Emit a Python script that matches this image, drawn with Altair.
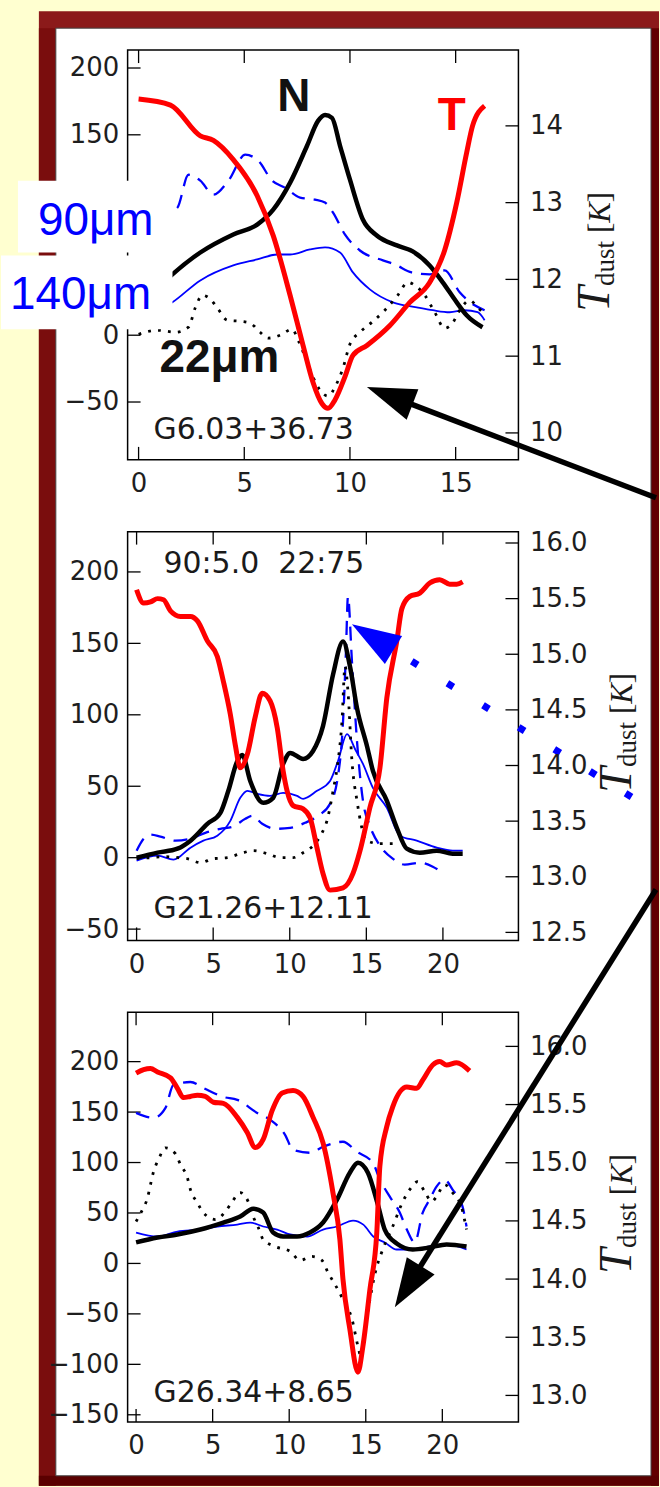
import math
import altair as alt
import pandas as pd

# ---------------- data : panel 1  (G6.03+36.73) ----------------
p1_T_x = [0, 1.51, 2.92, 3.54, 4.48, 5.61, 6.37, 7.17, 7.78, 8.25, 8.68, 8.96, 9.29, 9.76, 10.14,
          10.80, 11.89, 12.83, 13.77, 14.48, 15.05, 15.52, 15.80, 16.37]
p1_T = [14.35, 14.27, 13.87, 13.81, 13.56, 13.09, 12.57, 11.79, 11.14, 10.66, 10.38, 10.32, 10.43,
        10.73, 11.01, 11.14, 11.40, 11.70, 11.96, 12.38, 13.00, 13.65, 14.00, 14.26]
p1_N_x = [0, 0.80, 1.60, 2.92, 4.48, 5.61, 6.37, 7.17, 7.97, 8.49, 8.82, 9.15, 9.53, 10.0, 10.61,
          11.27, 12.22, 12.97, 13.77, 14.39, 15.05, 15.52, 16.27]
p1_N = [24.6, 33.6, 45.5, 61.9, 75.4, 82.8, 94.0, 114.2, 141.8, 160.4, 164.9, 162.7, 141.8, 116.4,
        86.6, 74.6, 67.2, 62.7, 52.2, 39.6, 24.6, 14.9, 6.0]
p1_140_x = [0, 0.80, 1.60, 2.92, 4.48, 5.61, 6.56, 7.17, 8.11, 8.82, 9.53, 10.14, 10.94, 12.03,
            13.16, 13.92, 14.72, 15.42, 16.04, 16.37]
p1_140 = [11.2, 17.2, 24.6, 41.0, 52.2, 56.7, 60.4, 60.4, 64.2, 65.7, 61.9, 47.0, 34.3, 24.6, 20.9,
          18.7, 17.2, 18.7, 17.2, 11.2]
p1_90_x = [0, 1.04, 1.84, 2.36, 2.92, 3.54, 4.25, 5.05, 5.66, 6.32, 6.93, 7.64, 8.35, 8.82, 9.20,
           9.76, 10.47, 11.56, 12.12, 12.92, 13.77, 14.48, 15.19, 15.90, 16.37]
p1_90 = [76.9, 88.1, 95.5, 120.1, 115.7, 105.2, 115.7, 135.1, 130.6, 115.7, 110.4, 103.0, 101.5,
         99.3, 91.8, 75.4, 63.4, 56.0, 53.0, 47.0, 45.5, 48.5, 32.1, 22.4, 18.7]
p1_22_x = [0, 0.90, 1.75, 2.36, 2.69, 3.02, 3.40, 3.77, 4.20, 4.81, 5.28, 5.75, 6.13, 6.70, 7.26,
           7.55, 7.88, 8.25, 8.58, 8.96, 9.34, 9.67, 10.00, 10.47, 11.04, 11.65, 12.26, 12.74,
           13.07, 13.54, 14.01, 14.48, 14.81, 15.28, 15.66, 16.04, 16.37]
p1_22 = [0.7, 3.7, 2.2, 6.0, 20.9, 29.9, 26.9, 19.4, 11.2, 10.4, 9.0, 2.2, -2.2, 0, 4.5, -3.7,
         -16.4, -31.3, -41.0, -45.5, -37.3, -24.6, -6.7, 2.2, 9.7, 18.7, 29.9, 39.6, 37.3, 29.9,
         17.2, 5.2, 8.2, 20.9, 26.1, 20.9, 15.7]

# ---------------- data : panel 2  (G21.26+12.11) ----------------
p2_T_x = [0, 0.46, 0.91, 1.37, 1.76, 2.21, 2.86, 3.52, 3.97, 4.62, 5.27, 5.66, 6.12, 6.45, 6.77,
          7.23, 7.75, 8.20, 8.72, 9.18, 9.57, 9.83, 10.22, 10.87, 11.33, 11.78, 12.17, 12.63,
          13.48, 14.13, 14.58, 15.23, 15.89, 16.34, 16.99, 17.32, 17.84, 18.49, 19.14, 19.79,
          20.44, 20.90, 21.29]
p2_T = [15.58, 15.46, 15.47, 15.50, 15.49, 15.39, 15.34, 15.34, 15.30, 15.12, 14.98, 14.76, 14.46,
        14.18, 13.98, 14.10, 14.44, 14.65, 14.58, 14.34, 13.95, 13.77, 13.64, 13.61, 13.53, 13.26,
        13.03, 12.88, 12.90, 13.03, 13.23, 13.62, 13.98, 14.61, 15.12, 15.41, 15.52, 15.55, 15.64,
        15.67, 15.63, 15.63, 15.65]
p2_N_x = [0, 1.37, 2.67, 3.52, 4.62, 5.47, 5.99, 6.58, 6.90, 7.42, 8.27, 8.92, 9.57, 10.03, 10.87,
          11.52, 12.17, 12.83, 13.48, 13.93, 14.39, 15.04, 15.43, 16.34, 16.99, 17.64, 18.49,
          19.60, 20.64, 21.29]
p2_N = [0, 3.5, 6.3, 11.9, 23.7, 31.4, 46.8, 67.7, 71.9, 53.7, 38.4, 41.9, 65.6, 73.3, 69.1, 74.7,
        92.1, 128.4, 151.4, 134.0, 104.7, 78.2, 60.7, 39.8, 20.9, 6.3, 3.5, 4.9, 2.8, 2.8]
p2_140_x = [0, 1.37, 2.41, 3.52, 4.36, 5.27, 6.12, 6.77, 7.23, 7.88, 8.72, 9.57, 10.48, 10.87,
            11.78, 12.63, 13.15, 13.74, 14.26, 14.78, 15.43, 16.34, 17.19, 18.29, 19.60, 20.64,
            21.29]
p2_140 = [-2.1, 1.4, -1.4, 7.0, 11.9, 15.4, 25.8, 41.9, 46.8, 44.7, 43.3, 45.4, 43.3, 41.2, 46.8,
          53.7, 67.7, 86.5, 76.1, 65.6, 48.8, 34.9, 15.4, 11.9, 7.0, 4.9, 4.9]
p2_90_x = [0, 0.46, 0.91, 1.56, 2.54, 3.52, 4.49, 5.47, 6.25, 7.10, 7.55, 8.20, 9.05, 10.03, 11.00,
           11.85, 12.63, 13.15, 13.48, 13.67, 13.80, 14.06, 14.39, 14.78, 15.23, 15.89, 16.73,
           17.51, 18.49, 19.34, 19.79]
p2_90 = [4.9, 13.3, 16.1, 14.7, 11.9, 13.3, 17.4, 20.2, 21.6, 27.2, 29.3, 23.7, 20.2, 20.9, 24.4,
         29.3, 37.7, 57.2, 95.6, 144.5, 182.8, 137.5, 81.6, 39.8, 22.3, 8.4, -0.7, -4.9, -3.5,
         -6.3, -9.1]
p2_22_x = [0, 0.91, 1.89, 2.73, 3.32, 4.17, 5.01, 5.92, 6.77, 7.62, 8.53, 9.38, 10.22, 10.87,
           11.52, 12.11, 12.43, 12.83, 13.09, 13.41, 13.61, 13.80, 14.06, 14.39, 15.04, 15.89,
           16.73]
p2_22 = [-0.7, 0, 0.7, 0, -0.7, -3.5, -0.7, 0, 2.8, 4.9, 2.8, 0, 0, 3.5, 8.4, 17.4, 25.8, 46.8,
         62.8, 95.6, 134.0, 116.5, 67.7, 39.8, 11.9, 9.8, 9.8]

# ---------------- data : panel 3  (G26.34+8.65) ----------------
p3_T_x = [0, 0.49, 0.94, 1.40, 2.25, 2.70, 3.09, 3.55, 4.00, 4.52, 5.05, 5.70, 6.61, 7.26, 7.78,
          8.30, 8.89, 9.54, 10.25, 10.90, 11.56, 12.21, 12.86, 13.31, 13.51, 13.96, 14.49, 14.81,
          15.27, 15.72, 15.92, 16.37, 16.76, 17.68, 18.33, 18.72, 19.37, 19.82, 20.28, 20.93,
          21.78]
p3_T = [15.77, 15.80, 15.81, 15.78, 15.73, 15.64, 15.56, 15.57, 15.58, 15.57, 15.52, 15.51, 15.39,
        15.26, 15.13, 15.20, 15.45, 15.60, 15.62, 15.57, 15.39, 15.17, 14.74, 14.34, 14.00, 13.57,
        13.20, 13.42, 13.91, 14.40, 14.97, 15.31, 15.48, 15.65, 15.64, 15.71, 15.84, 15.87, 15.84,
        15.86, 15.79]
p3_N_x = [0, 1.40, 2.70, 4.20, 5.70, 6.80, 7.65, 8.30, 8.95, 9.60, 10.51, 11.36, 12.21, 13.12,
          13.96, 14.49, 15.14, 15.79, 16.24, 17.02, 18.07, 19.17, 20.28, 21.58]
p3_N = [20.8, 25.7, 28.7, 33.6, 40.5, 46.4, 54.3, 50.4, 30.6, 26.7, 26.7, 30.6, 40.5, 63.2, 89.9,
        99.8, 89.9, 58.3, 33.6, 19.8, 13.8, 15.8, 18.8, 16.8]
p3_140_x = [0, 1.40, 2.70, 4.20, 5.31, 6.61, 7.45, 8.30, 9.21, 10.06, 11.17, 12.21, 13.12, 14.17,
            14.84, 15.49, 16.24, 17.02, 18.07, 19.17, 20.28, 21.58]
p3_140 = [30.6, 26.7, 31.6, 33.6, 36.6, 38.5, 40.5, 36.6, 33.6, 28.7, 26.7, 33.6, 36.6, 42.5, 38.5,
          26.7, 20.8, 13.8, 13.8, 16.8, 18.8, 13.8]
p3_90_x = [0, 1.14, 1.92, 2.44, 3.55, 4.39, 5.70, 6.61, 7.91, 8.76, 9.73, 10.25, 11.36, 12.21,
           13.51, 14.42, 15.46, 15.92, 16.57, 17.22, 17.68, 18.20, 18.72, 19.17, 19.62, 20.15,
           20.67, 21.32, 21.58]
p3_90 = [149.2, 144.3, 154.2, 176.9, 179.8, 173.9, 165.0, 162.1, 149.2, 142.3, 127.5, 112.6, 109.7,
         115.6, 120.6, 110.7, 99.8, 83.0, 66.2, 50.4, 33.6, 20.8, 50.4, 63.2, 76.1, 83.0, 73.1,
         56.3, 36.6]
p3_22_x = [0, 0.42, 0.75, 0.94, 1.14, 1.46, 1.92, 2.57, 2.90, 3.35, 3.55, 4.00, 4.39, 5.18, 5.83,
           6.28, 6.80, 7.32, 7.65, 7.98, 8.30, 9.08, 10.06, 10.71, 11.49, 12.14, 12.53, 12.99,
           13.51, 14.10, 14.49, 14.68, 14.94, 15.27, 15.59, 16.11, 16.76, 17.42, 17.87, 18.39,
           18.85, 19.30, 19.62, 20.15, 20.67, 21.26, 21.58]
p3_22 = [41.5, 53.4, 65.2, 78.1, 90.9, 102.8, 114.6, 108.7, 97.8, 85.0, 73.1, 60.3, 50.4, 43.5,
         51.4, 61.3, 70.2, 61.3, 46.4, 35.6, 23.7, 16.8, 11.9, 3.0, 6.9, 3.0, -8.9, -20.8, -35.6,
         -55.3, -82.0, -91.9, -65.2, -35.6, -10.9, 13.8, 36.6, 61.3, 73.1, 81.0, 71.1, 61.3, 66.2,
         78.1, 70.2, 55.3, 33.6]

# ---------------- axis ticks / labels ----------------
p1_x_ticks = [0, 5, 10, 15]
p1_n_ticks = [-50, 0, 50, 100, 150, 200]
p1_n_labels = [-50, 0, 150, 200]
p1_t_ticks = [10, 11, 12, 13, 14]
p2_x_ticks = [0, 5, 10, 15, 20]
p2_n_ticks = [-50, 0, 50, 100, 150, 200]
p2_t_ticks = [12.5, 13.0, 13.5, 14.0, 14.5, 15.0, 15.5, 16.0]
p3_x_ticks = [0, 5, 10, 15, 20]
p3_n_ticks = [-150, -100, -50, 0, 50, 100, 150, 200]
p3_t_ticks = [13.0, 13.5, 14.0, 14.5, 15.0, 15.5, 16.0]

# ---------------- layout constants ----------------
W = 392
LEFT = 127
TOPS = [47, 530, 1012]
HEIGHTS = [411, 410, 411]
FIG_W, FIG_H = 660, 1487
TICK = 13
BLUE = "#0000FF"
RED = "#FF0000"
INK = "#1a1a1a"
YELLOW = "#FFFFD0"
ONE = pd.DataFrame({"k": [0]})
HEAD = "M 1 0 L -1 -0.67 L -1 0.67 Z"
AXL = dict(labelFont="DejaVu Sans", labelFontSize=26, labelColor="#1e1e1e",
           labelOverlap=False, labelFlush=False, ticks=False, domain=False, grid=False,
           title=None)


def rect(x1, y1, x2, y2, top, **kw):
    return alt.Chart(ONE).mark_rect(**kw).encode(
        x=alt.value(x1 - LEFT), x2=alt.value(x2 - LEFT),
        y=alt.value(y1 - top), y2=alt.value(y2 - top))


def txt(text, ax, ay, top, size, color=INK, font="DejaVu Sans", weight="normal",
        style="normal", angle=0):
    return alt.Chart(ONE).mark_text(
        text=text, font=font, fontSize=size, fontWeight=weight, fontStyle=style,
        color=color, angle=angle, align="left", baseline="alphabetic").encode(
        x=alt.value(ax - LEFT), y=alt.value(ay - top))


def tdust(top, H, bx):
    b = top + H / 2 + 57
    return [
        txt("T", bx, b, top, 46, font="Liberation Serif", style="italic", angle=270),
        txt("dust", bx + 5, b - 26, top, 27, font="Liberation Serif", angle=270),
        txt("[", bx + 1, b - 79, top, 31, font="Liberation Serif", angle=270),
        txt("K", bx + 1, b - 89.3, top, 31, font="Liberation Serif", style="italic", angle=270),
        txt("]", bx + 1, b - 110, top, 31, font="Liberation Serif", angle=270),
    ]


def arrow(tail, tip, top, color, width, dash=None):
    (tx, ty), (px, py) = tail, tip
    L = math.hypot(tx - px, ty - py)
    ux, uy = (tx - px) / L, (ty - py) / L
    hl = 49
    cx, cy = px + ux * hl / 2, py + uy * hl / 2
    ang = math.degrees(math.atan2(-uy, -ux)) % 360
    kw = dict(color=color, strokeWidth=width, strokeCap="butt")
    if dash:
        kw["strokeDash"] = dash
        ex, ey = tx - ux * 265, ty - uy * 265
    else:
        ex, ey = cx, cy
    line = alt.Chart(ONE).mark_rule(**kw).encode(
        x=alt.value(tx - LEFT), y=alt.value(ty - top),
        x2=alt.value(ex - LEFT), y2=alt.value(ey - top))
    head = alt.Chart(ONE).mark_point(
        shape=HEAD, size=hl * hl, filled=True, color=color, opacity=1,
        strokeWidth=0, angle=ang).encode(x=alt.value(cx - LEFT), y=alt.value(cy - top))
    return [line, head]


def series(xs, ys, xsc, xax, ysc, yax, color, width, dash=None):
    df = pd.DataFrame({"x": xs, "y": ys})
    kw = dict(color=color, strokeWidth=width, interpolate="monotone")
    if dash:
        kw.update(strokeDash=dash, strokeCap="butt")
    return alt.Chart(df).mark_line(**kw).encode(
        x=alt.X("x:Q", scale=xsc, axis=xax), y=alt.Y("y:Q", scale=ysc, axis=yax))


def panel(i, xdom, ndom, tdom, xt, nt, nlab, tt, tfmt, lines, tline, pre, post, tz):
    H = HEIGHTS[i]
    xsc = alt.Scale(domain=xdom, nice=False, zero=False)
    xax = alt.Axis(values=xt, format="d", orient="bottom", labelPadding=11, zindex=1, **AXL)
    nsc = alt.Scale(domain=ndom, nice=False, zero=False)
    nax = alt.Axis(values=nlab, format="d", orient="left", labelPadding=9, zindex=1, **AXL)
    tsc = alt.Scale(domain=tdom, nice=False, zero=False)
    tax = alt.Axis(values=tt, format=tfmt, orient="right", labelPadding=11, zindex=tz, **AXL)
    xdf = pd.DataFrame({"v": xt})
    ndf = pd.DataFrame({"v": nt})
    tdf = pd.DataFrame({"v": tt})
    tick_kw = dict(color="black", strokeWidth=1.3)
    bottom = alt.Chart(xdf).mark_rule(**tick_kw).encode(
        x=alt.X("v:Q", scale=xsc, axis=xax), y=alt.value(H), y2=alt.value(H - TICK))
    topt = alt.Chart(xdf).mark_rule(**tick_kw).encode(
        x=alt.X("v:Q", scale=xsc, axis=xax), y=alt.value(0), y2=alt.value(TICK))
    leftt = alt.Chart(ndf).mark_rule(**tick_kw).encode(
        y=alt.Y("v:Q", scale=nsc, axis=nax), x=alt.value(0), x2=alt.value(TICK))
    rightt = alt.Chart(tdf).mark_rule(**tick_kw).encode(
        y=alt.Y("v:Q", scale=tsc, axis=tax), x=alt.value(W), x2=alt.value(W - TICK))
    left = alt.layer(bottom, topt, leftt,
                     *[series(xs, ys, xsc, xax, nsc, nax, c, w, d) for xs, ys, c, w, d in lines])
    right = alt.layer(series(tline[0], tline[1], xsc, xax, tsc, tax, RED, 5), rightt)
    box = alt.Chart(ONE).mark_rect(fillOpacity=0, stroke="black", strokeWidth=1.5).encode(
        x=alt.value(0), x2=alt.value(W), y=alt.value(0), y2=alt.value(H))
    return alt.layer(*pre, left, right, box, *post).resolve_scale(y="independent").properties(
        width=W, height=H)


DASH = [14, 9]
DOT = [2.8, 7.2]

# ---------- panel 1 ----------
t1 = TOPS[0]
pre1 = [
    rect(0, 0, FIG_W, FIG_H, t1, fill=YELLOW),
    rect(38, 8, FIG_W, FIG_H, t1, fill="#8B1A1A"),
    rect(38, 25, 55, FIG_H, t1, fill="#7A0D0D"),
    rect(652, 25, FIG_W, FIG_H, t1, fill="#620000"),
    rect(38, 1477, FIG_W, FIG_H, t1, fill="#5A0000"),
    rect(55, 25, 652, 1477, t1, fill="white", stroke="#444444", strokeWidth=1),
]
post1 = [
    rect(17, 178, 175, 250, t1, fill="white"),
    rect(0, 253, 172, 327, t1, fill="white"),
    txt("90μm", 37, 232, t1, 46, color=BLUE, font="Liberation Sans"),
    txt("140μm", 9, 307, t1, 46, color=BLUE, font="Liberation Sans"),
    txt("N", 277, 108, t1, 46, color="#111111", font="Liberation Sans", weight="bold"),
    txt("T", 438, 127, t1, 46, color=RED, font="Liberation Sans", weight="bold"),
    txt("22μm", 159, 370, t1, 46, color="#111111", font="Liberation Sans", weight="bold"),
    txt("G6.03+36.73", 153, 437, t1, 30),
    *tdust(t1, HEIGHTS[0], 610),
    *arrow((657, 496), (367, 385), t1, "black", 5.5),
]
p1 = panel(0, [-0.519, 17.97], [-93.3, 213.4], [9.649, 14.987],
           p1_x_ticks, p1_n_ticks, p1_n_labels, p1_t_ticks, "d",
           [(p1_90_x, p1_90, BLUE, 2.3, DASH), (p1_140_x, p1_140, BLUE, 1.8, None),
            (p1_22_x, p1_22, "black", 2.8, DOT), (p1_N_x, p1_N, "black", 4.5, None)],
           (p1_T_x, p1_T), pre1, post1, 1)

# ---------- panel 2 ----------
t2 = TOPS[1]
post2 = [
    txt("90:5.0", 163, 571, t2, 30),
    txt("22:75", 278, 571, t2, 30),
    txt("G21.26+12.11", 153, 918, t2, 30),
    *tdust(t2, HEIGHTS[1], 632),
    *arrow((632.4, 796.1), (352, 623), t2, BLUE, 7, dash=[7, 35]),
]
p2 = panel(1, [-0.586, 24.93], [-57.9, 228.2], [12.428, 16.102],
           p2_x_ticks, p2_n_ticks, p2_n_ticks, p2_t_ticks, ".1f",
           [(p2_90_x, p2_90, BLUE, 2.3, DASH), (p2_140_x, p2_140, BLUE, 1.8, None),
            (p2_22_x, p2_22, "black", 2.8, DOT), (p2_N_x, p2_N, "black", 4.5, None)],
           (p2_T_x, p2_T), [], post2, 1)

# ---------- panel 3 ----------
t3 = TOPS[2]
post3 = [
    txt("G26.34+8.65", 153, 1403, t3, 30),
    *tdust(t3, HEIGHTS[2], 632),
    *arrow((657, 889), (395, 1308), t3, "black", 5.5),
]
p3 = panel(2, [-0.553, 24.97], [-157.1, 249.0], [12.772, 16.294],
           p3_x_ticks, p3_n_ticks, p3_n_ticks, p3_t_ticks, ".1f",
           [(p3_90_x, p3_90, BLUE, 2.3, DASH), (p3_140_x, p3_140, BLUE, 1.8, None),
            (p3_22_x, p3_22, "black", 2.8, DOT), (p3_N_x, p3_N, "black", 4.5, None)],
           (p3_T_x, p3_T), [], post3, 0)

chart = alt.vconcat(p1, p2, p3, spacing=72, bounds="flush", padding=0).configure(
    background=YELLOW
).configure_view(stroke="transparent")

chart.save("out.html", embed_options={"renderer": "svg", "actions": False})
